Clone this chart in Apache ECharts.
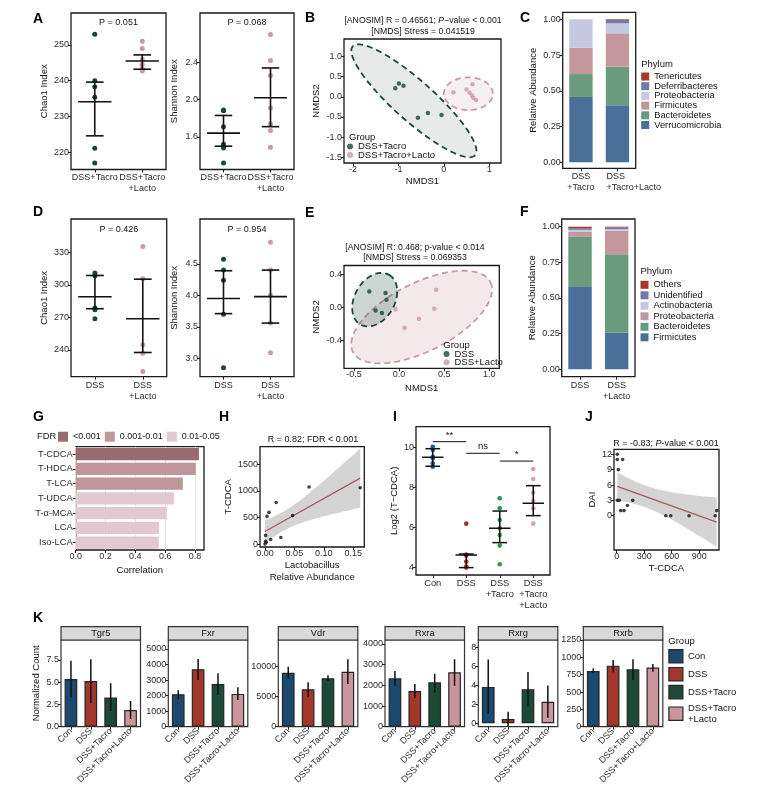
<!DOCTYPE html>
<html>
<head>
<meta charset="utf-8">
<title>Figure</title>
<script src="https://cdn.jsdelivr.net/npm/echarts@6/dist/echarts.min.js"></script>
<style>html,body{margin:0;padding:0;background:#fff;}#c{width:773px;height:808px;}</style>
</head>
<body>
<div id="c"></div>
<script>
// ================= DATA =================
// Panel A (DSS+Tacro vs DSS+Tacro+Lacto)
const groupsA = ['DSS+Tacro', 'DSS+Tacro\n+Lacto'];
const chao1A_tacro = [253.0, 240.0, 238.3, 235.4, 221.1, 217.0];
const chao1A_lacto = [251.0, 249.0, 246.0, 244.5, 243.5, 243.0, 242.7];
const chao1A_stats = [[234.1, 224.6, 239.6], [245.5, 243.2, 247.2]]; // median, q1, q3
const shanA_tacro = [1.89, 1.88, 1.71, 1.52, 1.48, 1.32];
const shanA_lacto = [2.70, 2.42, 2.26, 1.91, 1.74, 1.67, 1.49];
const shanA_stats = [[1.64, 1.50, 1.83], [2.02, 1.71, 2.34]];
const pA = ['P = 0.051', 'P = 0.068'];
const chao1TicksA = [220, 230, 240, 250];
const shanTicksA = [1.6, 2.0, 2.4];

// Panel B (NMDS)
const nmdsB_tacro = [[-1.07,0.21],[-0.99,0.33],[-0.89,0.27],[-0.57,-0.52],[-0.35,-0.40],[-0.05,-0.45]];
const nmdsB_lacto = [[0.21,0.11],[0.50,0.18],[0.63,0.31],[0.57,0.10],[0.62,0.03],[0.65,-0.03],[0.71,-0.08]];
// ellipse: centre x, centre y, semi-axis vector a (x,y), semi-axis vector b (x,y)
const ellipseB = [[-0.66,-0.10, 1.347,-1.349, -0.294,-0.369], [0.54,0.075, 0.54,0.0, 0.0,0.405]];
const groupsB = ['DSS+Tacro', 'DSS+Tacro+Lacto'];
const nmds1TicksB = [-2, -1, 0, 1];
const nmds2TicksB = [-1.5, -1.0, -0.5, 0.0, 0.5, 1.0];

// Panel C (phylum, stacked)
const phylaC = ['Verrucomicrobia','Bacteroidetes','Firmicutes','Proteobacteria','Deferribacteres','Tenericutes'];
const groupsC = ['DSS\n+Tacro', 'DSS\n+Tacro+Lacto'];
const abundC = [[0.457,0.399],[0.160,0.270],[0.184,0.233],[0.199,0.070],[0.000,0.025],[0.000,0.004]];
const abundTicks = [0, 0.25, 0.5, 0.75, 1.0];

// Panel D (DSS vs DSS+Lacto)
const groupsD = ['DSS', 'DSS\n+Lacto'];
const chao1D_dss = [310.8, 308.3, 278.6, 277.0, 268.7];
const chao1D_lacto = [335.2, 305.5, 244.8, 237.1, 220.2];
const chao1D_stats = [[289.0, 278.0, 308.6], [268.7, 237.7, 305.2]];
const shanD_dss = [4.57, 4.40, 4.24, 3.70, 2.85];
const shanD_lacto = [4.84, 4.40, 4.00, 3.56, 3.09];
const shanD_stats = [[3.95, 3.71, 4.39], [3.98, 3.56, 4.40]];
const pD = ['P = 0.426', 'P = 0.954'];
const chao1TicksD = [240, 270, 300, 330];
const shanTicksD = [3.0, 3.5, 4.0, 4.5];

// Panel E (NMDS)
const nmdsE_dss = [[-0.33,0.19],[-0.15,0.17],[-0.14,0.09],[-0.26,-0.04],[-0.19,-0.07]];
const nmdsE_lacto = [[-0.04,-0.03],[0.06,-0.25],[0.22,-0.14],[0.39,-0.02],[0.41,0.21]];
const ellipseE = [[-0.27,0.09, 0.159,0.30, 0.192,-0.121], [0.25,-0.12, 0.761,0.423, 0.171,-0.367]];
const groupsE = ['DSS', 'DSS+Lacto'];
const nmds1TicksE = [-0.5, 0.0, 0.5, 1.0];
const nmds2TicksE = [-0.4, 0.0, 0.4];

// Panel F (phylum, stacked)
const phylaF = ['Firmicutes','Bacteroidetes','Proteobacteria','Actinobacteria','Unidentified','Others'];
const groupsF = ['DSS', 'DSS\n+Lacto'];
const abundF = [[0.577,0.257],[0.352,0.549],[0.035,0.165],[0.014,0.012],[0.012,0.011],[0.010,0.006]];

// Panel G (correlation bars)
const bileAcids = ['T-CDCA','T-HDCA','T-LCA','T-UDCA','T-α-MCA','LCA','Iso-LCA'];
const corrG = [0.826, 0.805, 0.718, 0.658, 0.611, 0.559, 0.557];
const fdrClassG = [0, 1, 1, 2, 2, 2, 2];
const fdrLabels = ['<0.001', '0.001-0.01', '0.01-0.05'];

// Panel H (scatter + lm)
const lactoH = [0.075, 0.162, 0.047, 0.019, 0.0068, 0.0034, 0.027, 0.0097, 0.001, 0.002, 0.0, 0.001];
const tcdcaH = [1075, 1060, 540, 786, 600, 525, 130, 93, 170, 40, 10, 60];
const lactoTicksH = [0, 0.05, 0.10, 0.15];
const tcdcaTicksH = [0, 500, 1000, 1500];

// Panel I (Log2 T-CDCA)
const groupsI = ['Con', 'DSS', 'DSS\n+Tacro', 'DSS\n+Tacro\n+Lacto'];
const log2I = [
  [10.05, 9.97, 9.89, 9.55, 9.47, 9.22, 9.05],
  [6.20, 4.65, 4.30, 4.05, 4.00, 4.60],
  [7.47, 6.97, 6.38, 5.97, 5.63, 5.10, 4.17],
  [8.93, 8.43, 7.75, 7.33, 6.97, 6.20]
];
const statsI = [[9.52, 9.07, 9.95], [4.63, 4.00, 4.68], [5.97, 5.25, 6.83], [7.22, 6.60, 8.10]];
const sigI = [[0, 1, 10.3, '**'], [1, 2, 9.72, 'ns'], [2, 3, 9.33, '*']];
const log2TicksI = [4, 6, 8, 10];

// Panel J (DAI vs T-CDCA)
const tcdcaJ = [7, 7, 65, 18, 7, 29, 44, 80, 117, 175, 535, 589, 789, 1073, 1090];
const daiJ = [12, 11, 11, 9, 3, 3, 1, 1, 2, 3, 0, 0, 0, 0, 1];
const tcdcaTicksJ = [0, 300, 600, 900];
const daiTicksJ = [0, 3, 6, 9, 12];

// Panel K (receptor expression)
const genesK = ['Tgr5', 'Fxr', 'Vdr', 'Rxra', 'Rxrg', 'Rxrb'];
const groupsK = ['Con', 'DSS', 'DSS+Tacro', 'DSS+Tacro+Lacto'];
const legendK = ['Con', 'DSS', 'DSS+Tacro', 'DSS+Tacro\n+Lacto'];
const meanK = [[5.37,5.14,3.27,1.88],[2090,3700,2750,2110],[9000,6230,8070,9170],[2340,1725,2145,2630],[3.85,0.45,3.60,2.27],[804,880,828,852]];
const errLoK = [[3.27,2.64,1.77,0.87],[1750,3010,2045,1720],[7950,4900,7620,7120],[1980,1370,1660,1980],[0.98,-0.50,1.75,0.59],[770,785,673,793]];
const errHiK = [[7.43,7.58,4.88,2.90],[2350,4350,3440,2540],[10000,7400,8570,11230],[2690,2060,2560,3260],[6.74,1.22,5.43,4.00],[842,962,972,905]];
const ticksK = [[0,2.5,5,7.5],[0,1000,2000,3000,4000,5000],[0,5000,10000],[0,1000,2000,3000,4000],[0,2,4,6,8],[0,250,500,750,1000,1250]];

// ================= STYLE / HELPERS =================
const FONT = '"Liberation Sans", Arial, Helvetica, sans-serif';
const cGreen = '#19473a', cPink = '#c79ca3';
const phylumColorsC = ['#4a6f98','#6b9b7e','#c4979c','#c4c9e1','#737aa8','#a53a2a'];
const phylumColorsF = ['#4a6f98','#6b9b7e','#c4979c','#c4c9e1','#737aa8','#a53a2a'];
const fdrColors = ['#9a6a70', '#c0969b', '#e3c9cd'];
const kColors = ['#1c4a6e', '#a3372a', '#1b4a36', '#c9969d'];
const iColors = ['#2f5a9e', '#b02c2c', '#23994f', '#d4a2aa'];

const opt = {animation:false, backgroundColor:'#ffffff', textStyle:{fontFamily:FONT},
  grid:[], xAxis:[], yAxis:[], series:[], legend:[], graphic:[]};

function addGrid(box, xa, ya, border) {
  const gi = opt.grid.length;
  opt.grid.push({left:box[0], top:box[1], width:box[2]-box[0], height:box[3]-box[1], show:true,
    borderColor:(border && border.color) || '#1a1a1a', borderWidth:(border && border.width) || 1.3,
    backgroundColor:'rgba(0,0,0,0)'});
  opt.xAxis.push(Object.assign({gridIndex:gi}, xa));
  opt.yAxis.push(Object.assign({gridIndex:gi}, ya));
  return gi;
}
function tickOpt(vals) {
  const t = {show:true, length:3, lineStyle:{color:'#222', width:1}};
  if (vals) t.customValues = vals;
  return t;
}
const NOLINE = {show:false, onZero:false};
function valAxis(min, max, ticks, fmt, extra, lab) {
  return Object.assign({type:'value', min:min, max:max, splitLine:{show:false}, axisLine:NOLINE,
    axisTick:tickOpt(ticks),
    axisLabel:Object.assign({customValues:ticks, formatter:fmt, fontSize:9, color:'#2b2b2b', margin:2, fontFamily:FONT}, lab || {})},
    extra || {});
}
function catAxis(cats, extra, lab) {
  return Object.assign({type:'category', data:cats, axisLine:NOLINE, splitLine:{show:false},
    axisTick:Object.assign({alignWithLabel:true}, tickOpt()),
    axisLabel:Object.assign({fontSize:9, color:'#2b2b2b', margin:3, interval:0, lineHeight:11, fontFamily:FONT}, lab || {})},
    extra || {});
}
function nameOpts(name, gap, size) {
  return {name:name, nameLocation:'middle', nameGap:gap,
    nameTextStyle:{fontSize:size || 9.5, color:'#111', fontFamily:FONT, lineHeight:12}};
}
const f0 = v => String(v), f1 = v => v.toFixed(1), f2 = v => v.toFixed(2);

function txt(x, y, text, o) {
  o = o || {};
  const st = {text:text, fill:o.color || '#111', fontSize:o.size || 9, fontFamily:FONT,
    fontWeight:o.weight || 'normal', fontStyle:o.style || 'normal',
    align:o.align || 'center', verticalAlign:o.va || 'middle',
    textAlign:o.align || 'center', textVerticalAlign:o.va || 'middle'};
  if (o.rich) st.rich = o.rich;
  if (o.lh) st.lineHeight = o.lh;
  opt.graphic.push({type:'text', x:x, y:y, rotation:o.rot || 0, silent:true, z:100, style:st});
}
function letter(x, y, t) { txt(x, y, t, {size:14, weight:'bold', align:'left', color:'#000'}); }

function medIqr(gi, stats, bw, wm, wc, lw) {
  opt.series.push({type:'custom', xAxisIndex:gi, yAxisIndex:gi, z:6, silent:true,
    data:stats.map((s, k) => [k, s[0], s[1], s[2]]),
    renderItem:function(params, api) {
      const x = api.value(0);
      const pm = api.coord([x, api.value(1)]), pl = api.coord([x, api.value(2)]), ph = api.coord([x, api.value(3)]);
      const st = {stroke:'#111', lineWidth:lw, fill:null};
      const ln = (x1, y1, x2, y2) => ({type:'line', shape:{x1:x1, y1:y1, x2:x2, y2:y2}, style:st});
      return {type:'group', children:[
        ln(pm[0] - bw*wm, pm[1], pm[0] + bw*wm, pm[1]),
        ln(pl[0], pl[1], ph[0], ph[1]),
        ln(pl[0] - bw*wc, pl[1], pl[0] + bw*wc, pl[1]),
        ln(ph[0] - bw*wc, ph[1], ph[0] + bw*wc, ph[1])]};
    }});
}
function dots(gi, vals, k, color, size) {
  opt.series.push({type:'scatter', xAxisIndex:gi, yAxisIndex:gi, z:5, symbolSize:size,
    itemStyle:{color:color, opacity:1}, data:vals.map(v => [k, v])});
}
function ellipseOutline(e) {
  const pts = [];
  for (let i = 0; i < 120; i++) {
    const t = i / 120 * 2 * Math.PI;
    pts.push([e[0] + e[2]*Math.cos(t) + e[4]*Math.sin(t), e[1] + e[3]*Math.cos(t) + e[5]*Math.sin(t)]);
  }
  return pts;
}
function polygonSeries(gi, pts, style, z) {
  opt.series.push({type:'custom', xAxisIndex:gi, yAxisIndex:gi, z:z, silent:true, clip:true,
    data:[pts[0]],
    renderItem:function(params, api) {
      return {type:'polygon', shape:{points:pts.map(p => api.coord(p))}, style:style};
    }});
}
function linFit(xs, ys) {
  const n = xs.length;
  const mx = xs.reduce((a, b) => a + b, 0) / n, my = ys.reduce((a, b) => a + b, 0) / n;
  let sxx = 0, sxy = 0;
  for (let i = 0; i < n; i++) { sxx += (xs[i]-mx)*(xs[i]-mx); sxy += (xs[i]-mx)*(ys[i]-my); }
  const b = sxy / sxx, a = my - b*mx;
  let rss = 0;
  for (let i = 0; i < n; i++) { const r = ys[i] - a - b*xs[i]; rss += r*r; }
  return {a:a, b:b, s:Math.sqrt(rss/(n-2)), n:n, mx:mx, sxx:sxx};
}
const T975 = {10:2.228, 13:2.160};
function lmLayer(gi, xs, ys) {
  const f = linFit(xs, ys);
  const t = T975[f.n - 2];
  const x0 = Math.min.apply(null, xs), x1 = Math.max.apply(null, xs);
  const up = [], lo = [];
  for (let i = 0; i <= 80; i++) {
    const x = x0 + (x1 - x0) * i / 80;
    const yh = f.a + f.b*x;
    const se = f.s * Math.sqrt(1/f.n + (x-f.mx)*(x-f.mx)/f.sxx);
    up.push([x, yh + t*se]); lo.push([x, yh - t*se]);
  }
  polygonSeries(gi, up.concat(lo.reverse()), {fill:'rgba(170,170,170,0.5)', stroke:null}, 2);
  opt.series.push({type:'line', xAxisIndex:gi, yAxisIndex:gi, z:3, silent:true, showSymbol:false,
    lineStyle:{color:'#a35c62', width:1.3}, data:[[x0, f.a + f.b*x0], [x1, f.a + f.b*x1]]});
  opt.series.push({type:'scatter', xAxisIndex:gi, yAxisIndex:gi, z:5, symbolSize:3.6,
    itemStyle:{color:'#111'}, data:xs.map((x, i) => [x, ys[i]])});
}

// ================= PANEL A =================
letter(33, 19, 'A');
{
  const g1 = addGrid([71, 13, 166, 169.5], catAxis(groupsA),
    valAxis(215.2, 258.9, chao1TicksA, f0, nameOpts('Chao1 Index', 21)));
  dots(g1, chao1A_tacro, 0, cGreen, 5); dots(g1, chao1A_lacto, 1, cPink, 5);
  medIqr(g1, chao1A_stats, 47.5, 0.35, 0.186, 1.6);
  txt(118.5, 23, pA[0], {size:9});
  const g2 = addGrid([200, 13, 294, 169.5], catAxis(groupsA),
    valAxis(1.25, 2.93, shanTicksA, f1, nameOpts('Shannon Index', 19.3)));
  dots(g2, shanA_tacro, 0, cGreen, 5); dots(g2, shanA_lacto, 1, cPink, 5);
  medIqr(g2, shanA_stats, 47, 0.35, 0.186, 1.6);
  txt(247, 23, pA[1], {size:9});
}

// ================= PANEL B =================
letter(305, 18, 'B');
{
  const g = addGrid([344, 39, 501, 163],
    valAxis(-2.2, 1.26, nmds1TicksB, f0, nameOpts('NMDS1', 4)),
    valAxis(-1.64, 1.43, nmds2TicksB, f1, nameOpts('NMDS2', 20.7)));
  polygonSeries(g, ellipseOutline(ellipseB[0]), {fill:'rgba(25,71,58,0.11)', stroke:cGreen, lineWidth:1.8, lineDash:[6,4]}, 2);
  polygonSeries(g, ellipseOutline(ellipseB[1]), {fill:'rgba(199,156,163,0.15)', stroke:cPink, lineWidth:1.8, lineDash:[6,4]}, 2);
  opt.series.push({type:'scatter', name:'B|' + groupsB[0], xAxisIndex:g, yAxisIndex:g, z:5, symbolSize:4.5, itemStyle:{color:cGreen}, data:nmdsB_tacro});
  opt.series.push({type:'scatter', name:'B|' + groupsB[1], xAxisIndex:g, yAxisIndex:g, z:5, symbolSize:4.5, itemStyle:{color:cPink}, data:nmdsB_lacto});
  txt(423, 20.7, '{n|[ANOSIM] R = 0.46561; }{i|P}{n|\u2212value < 0.001}', {size:8.7,
    rich:{n:{fontSize:8.7, fontFamily:FONT, fill:'#111'}, i:{fontSize:8.7, fontFamily:FONT, fontStyle:'italic', fill:'#111'}}});
  txt(423, 31.7, '[NMDS] Stress = 0.041519', {size:8.7});
  txt(349, 137, 'Group', {size:9.5, align:'left'});
  opt.legend.push({data:['B|' + groupsB[0], 'B|' + groupsB[1]], left:347, top:141.5, orient:'vertical', padding:0,
    itemWidth:6, itemHeight:6, itemGap:-1.5, icon:'circle', selectedMode:false,
    formatter:n => n.split('|')[1], textStyle:{fontSize:9.5, color:'#111', fontFamily:FONT, lineHeight:8}});
}

// ================= PANEL C =================
letter(520, 18, 'C');
function phylumPanel(box, cats, phyla, abund, colors, key, legTop, titleY, step) {
  const g = addGrid(box, catAxis(cats), valAxis(box[4], box[5], abundTicks, f2, nameOpts('Relative Abundance', 23.5)));
  phyla.forEach((p, i) => opt.series.push({type:'bar', name:key + '|' + p, stack:key, xAxisIndex:g, yAxisIndex:g,
    barWidth:'64%', z:2, itemStyle:{color:colors[i]}, data:abund[i]}));
  txt(box[2] + 5.5, titleY, 'Phylum', {size:9.5, align:'left'});
  opt.legend.push({data:phyla.slice().reverse().map(p => key + '|' + p), left:box[2] + 5.5, top:legTop, orient:'vertical',
    padding:0, itemWidth:8, itemHeight:8, itemGap:step - 8, icon:'rect', selectedMode:false,
    formatter:n => n.split('|')[1], textStyle:{fontSize:9.3, color:'#111', fontFamily:FONT, lineHeight:8}});
}
phylumPanel([562.7, 12.3, 635.7, 168.3, -0.042, 1.049],
  groupsC.map((c, i) => i === 1 ? {value:c, textStyle:{align:'left', padding:[0, 0, 0, -11]}} : {value:c}),
  phylaC, abundC, phylumColorsC, 'C', 72, 64.3, 8.7);

// ================= PANEL D =================
letter(33, 212, 'D');
{
  const g1 = addGrid([71, 219, 166.7, 376.7], catAxis(groupsD),
    valAxis(215.4, 360.6, chao1TicksD, f0, nameOpts('Chao1 Index', 21)));
  dots(g1, chao1D_dss, 0, cGreen, 5); dots(g1, chao1D_lacto, 1, cPink, 5);
  medIqr(g1, chao1D_stats, 47.8, 0.35, 0.186, 1.6);
  txt(118.8, 229.3, pD[0], {size:9});
  const g2 = addGrid([200, 219, 294, 376.7], catAxis(groupsD),
    valAxis(2.71, 5.21, shanTicksD, f1, nameOpts('Shannon Index', 19.3)));
  dots(g2, shanD_dss, 0, cGreen, 5); dots(g2, shanD_lacto, 1, cPink, 5);
  medIqr(g2, shanD_stats, 47, 0.35, 0.186, 1.6);
  txt(247, 229.3, pD[1], {size:9});
}

// ================= PANEL E =================
letter(305, 213, 'E');
{
  const g = addGrid([344, 265.5, 499.3, 368.3],
    valAxis(-0.61, 1.11, nmds1TicksE, f1, nameOpts('NMDS1', 13.7)),
    valAxis(-0.74, 0.503, nmds2TicksE, f1, nameOpts('NMDS2', 20.7)));
  polygonSeries(g, ellipseOutline(ellipseE[1]), {fill:'rgba(199,156,163,0.22)', stroke:cPink, lineWidth:1.8, lineDash:[6,4]}, 2);
  polygonSeries(g, ellipseOutline(ellipseE[0]), {fill:'rgba(25,71,58,0.22)', stroke:cGreen, lineWidth:1.8, lineDash:[6,4]}, 3);
  opt.series.push({type:'scatter', name:'E|' + groupsE[0], xAxisIndex:g, yAxisIndex:g, z:5, symbolSize:4.5, itemStyle:{color:cGreen}, data:nmdsE_dss});
  opt.series.push({type:'scatter', name:'E|' + groupsE[1], xAxisIndex:g, yAxisIndex:g, z:5, symbolSize:4.5, itemStyle:{color:cPink}, data:nmdsE_lacto});
  txt(415, 247.3, '[ANOSIM] R: 0.468; p-value < 0.014', {size:8.7});
  txt(415, 257.5, '[NMDS] Stress = 0.069353', {size:8.7});
  txt(443.3, 345, 'Group', {size:9.5, align:'left'});
  opt.legend.push({data:['E|' + groupsE[0], 'E|' + groupsE[1]], left:443.5, top:349, orient:'vertical', padding:0,
    itemWidth:6, itemHeight:6, itemGap:-1.8, icon:'circle', selectedMode:false,
    formatter:n => n.split('|')[1], textStyle:{fontSize:9.5, color:'#111', fontFamily:FONT, lineHeight:7}});
}

// ================= PANEL F =================
letter(520, 212, 'F');
phylumPanel([561.7, 219, 635, 376.7, -0.052, 1.054], groupsF, phylaF, abundF, phylumColorsF, 'F', 280.3, 271.7, 9.5);

// ================= PANEL G =================
letter(33, 417, 'G');
{
  const g = addGrid([75.7, 446.7, 204, 550],
    Object.assign({type:'value', min:0, max:0.86, interval:0.2, axisLine:NOLINE,
      splitLine:{show:true, lineStyle:{color:'#e6e6e6', width:1}},
      axisTick:tickOpt([0, 0.2, 0.4, 0.6, 0.8]),
      axisLabel:{customValues:[0, 0.2, 0.4, 0.6, 0.8], formatter:f1, fontSize:9, color:'#2b2b2b', margin:2, fontFamily:FONT}},
      nameOpts('Correlation', 14.3)),
    catAxis(bileAcids, {inverse:true}, {fontSize:9.3, margin:3}));
  fdrLabels.forEach((lab, c) => opt.series.push({type:'bar', name:'G|' + lab, xAxisIndex:g, yAxisIndex:g,
    barWidth:'82%', barGap:'-100%', z:2, itemStyle:{color:fdrColors[c]},
    data:corrG.map((v, i) => fdrClassG[i] === c ? v : '-')}));
  txt(37, 436.7, 'FDR', {size:9.3, align:'left'});
  opt.legend.push({data:fdrLabels.map(l => 'G|' + l), left:58, top:431.7, orient:'horizontal', padding:0,
    itemWidth:10, itemHeight:10, itemGap:4, icon:'rect', selectedMode:false,
    formatter:n => n.split('|')[1], textStyle:{fontSize:9, color:'#111', fontFamily:FONT}});
}

// ================= PANEL H =================
letter(219, 417, 'H');
{
  const g = addGrid([260, 446.7, 364.3, 547],
    valAxis(-0.0085, 0.169, lactoTicksH, f2, nameOpts('Lactobacillus\nRelative Abundance', 5)),
    valAxis(-47, 1828, tcdcaTicksH, f0, nameOpts('T-CDCA', 21.5)));
  lmLayer(g, lactoH, tcdcaH);
  txt(313, 440, 'R = 0.82; FDR < 0.001', {size:9});
}

// ================= PANEL I =================
letter(393, 417, 'I');
{
  const g = addGrid([416, 426.7, 550, 575], catAxis(groupsI, null, {fontSize:9.3}),
    valAxis(3.63, 11.05, log2TicksI, f0, nameOpts('Log2 (T\u2212CDCA)', 8)));
  log2I.forEach((vals, k) => dots(g, vals, k, iColors[k], 4.6));
  medIqr(g, statsI, 33.5, 0.32, 0.22, 1.5);
  opt.series.push({type:'custom', xAxisIndex:g, yAxisIndex:g, z:7, silent:true,
    data:sigI.map(s => [s[0], s[2], s[1]]),
    renderItem:function(params, api) {
      const s = sigI[params.dataIndex];
      const p1 = api.coord([s[0], s[2]]), p2 = api.coord([s[1], s[2]]);
      return {type:'group', children:[
        {type:'line', shape:{x1:p1[0], y1:p1[1], x2:p2[0], y2:p2[1]}, style:{stroke:'#111', lineWidth:1}},
        {type:'text', x:(p1[0] + p2[0]) / 2, y:p1[1] - 1.5, style:{text:s[3], fontSize:9.5, fontFamily:FONT, fill:'#111',
          align:'center', verticalAlign:'bottom', textAlign:'center', textVerticalAlign:'bottom'}}]};
    }});
}

// ================= PANEL J =================
letter(585, 417, 'J');
{
  const g = addGrid([614, 449.3, 719, 550],
    valAxis(-29, 1115, tcdcaTicksJ, f0, nameOpts('T-CDCA', 12.3)),
    valAxis(-6.7, 12.98, daiTicksJ, f0, nameOpts('DAI', 14.5)));
  lmLayer(g, tcdcaJ, daiJ);
  txt(666, 443.3, '{n|R = -0.83; }{i|P}{n|-value < 0.001}', {size:9,
    rich:{n:{fontSize:9, fontFamily:FONT, fill:'#111'}, i:{fontSize:9, fontFamily:FONT, fontStyle:'italic', fill:'#111'}}});
}

// ================= PANEL K =================
letter(33, 618, 'K');
{
  const facetL = [61, 168.3, 278.3, 385, 478.3, 583.3];
  const fw = 79.5;
  const yr = [[0, 9.75], [0, 5579], [0, 14450], [0, 4193], [-0.36, 8.81], [0, 1250]];
  genesK.forEach((gene, f) => {
    const l = facetL[f];
    const yExtra = f === 0 ? nameOpts('Normalized Count', 15.5) : {};
    const g = addGrid([l, 640, l + fw, 726.7],
      catAxis(groupsK, null, {rotate:45, fontSize:9, margin:3, lineHeight:10}),
      valAxis(yr[f][0], yr[f][1], ticksK[f], f === 0 ? f1 : f0, yExtra),
      {color:'#333', width:1.2});
    groupsK.forEach((grp, k) => opt.series.push({type:'bar', name:'K|' + grp, xAxisIndex:g, yAxisIndex:g,
      barWidth:'64%', barGap:'-100%', z:2,
      itemStyle:{color:kColors[k], borderColor:'#262626', borderWidth:1.2},
      data:meanK[f].map((v, i) => i === k ? v : '-')}));
    opt.series.push({type:'custom', xAxisIndex:g, yAxisIndex:g, z:6, silent:true, clip:true,
      data:meanK[f].map((v, i) => [i, errLoK[f][i], errHiK[f][i]]),
      renderItem:function(params, api) {
        const x = api.value(0);
        const p1 = api.coord([x, api.value(1)]), p2 = api.coord([x, api.value(2)]);
        return {type:'line', shape:{x1:p1[0], y1:p1[1], x2:p2[0], y2:p2[1]}, style:{stroke:'#111', lineWidth:1.5}};
      }});
    opt.graphic.push({type:'rect', silent:true, z:90, shape:{x:l, y:626.7, width:fw, height:13.3},
      style:{fill:'#d9d9d9', stroke:'#333', lineWidth:1.2}});
    txt(l + fw / 2, 633.4, gene, {size:9.3});
  });
  txt(668.3, 641, 'Group', {size:9.5, align:'left'});
  opt.legend.push({data:groupsK.map(g => 'K|' + g), left:668.3, top:649, orient:'vertical', padding:0,
    itemWidth:14, itemHeight:13.4, itemGap:3.3, icon:'rect', selectedMode:false,
    itemStyle:{borderColor:'#262626', borderWidth:1.2},
    formatter:n => legendK[groupsK.indexOf(n.split('|')[1])], textStyle:{fontSize:9.5, color:'#111', fontFamily:FONT, lineHeight:11}});
}

const chart = echarts.init(document.getElementById('c'), null, {renderer:'canvas', width:773, height:808});
chart.setOption(opt);
</script>
</body>
</html>
